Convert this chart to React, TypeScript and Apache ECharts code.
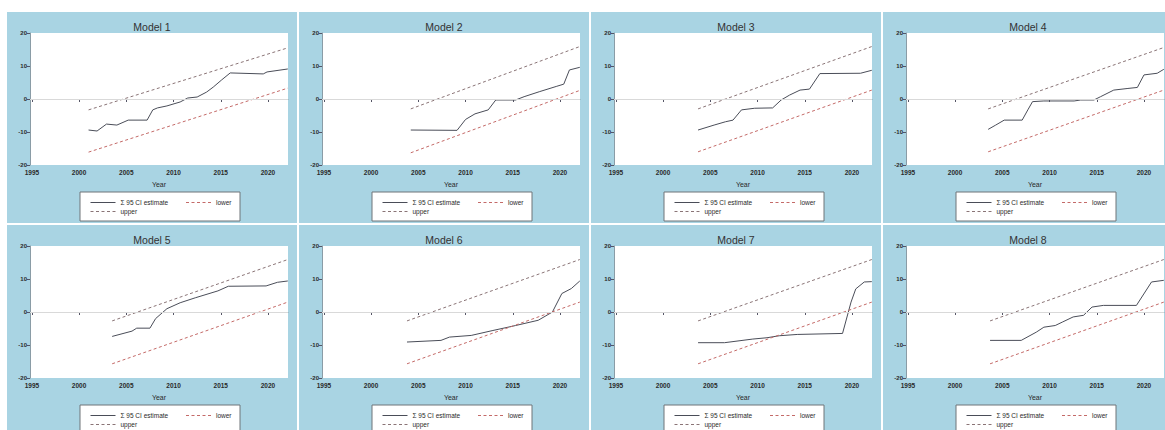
import React, { useEffect, useRef } from "react";
import * as echarts from "echarts";

// ---------- data ----------
const MODEL_TITLES = ["Model 1", "Model 2", "Model 3", "Model 4", "Model 5", "Model 6", "Model 7", "Model 8"];
const X_TICKS = [1995, 2000, 2005, 2010, 2015, 2020];
const Y_TICKS = [-20, -10, 0, 10, 20];
const X_NAME = "Year";
const LEGEND_NAMES = ["Σ 95 CI estimate", "lower", "upper"];

// confidence bounds (straight lines) per model
const BOUND_START_YEAR = [2001.0, 2004.2, 2003.7, 2003.5, 2003.5, 2003.8, 2003.7, 2003.7];
const BOUND_END_YEAR = [2022.1, 2022.1, 2022.1, 2022.1, 2022.1, 2022.1, 2022.1, 2022.1];
const UPPER_START = [-3.3, -3.0, -3.0, -3.0, -2.7, -2.7, -2.7, -2.7];
const UPPER_END = [15.5, 15.9, 15.9, 15.6, 15.9, 15.9, 15.9, 15.9];
const LOWER_START = [-16.1, -16.3, -16.0, -16.0, -15.7, -15.7, -15.7, -15.7];
const LOWER_END = [3.3, 2.6, 2.7, 2.7, 3.0, 3.0, 3.0, 3.0];

// point estimates per model
const M1_YEARS = [2001.0, 2001.9, 2002.9, 2004.0, 2005.2, 2007.2, 2007.8, 2008.3, 2009.3, 2010.7, 2011.5, 2012.5, 2013.5, 2014.2, 2015.1, 2016.0, 2019.5, 2019.9, 2022.1];
const M1_VALUES = [-9.4, -9.7, -7.6, -7.9, -6.4, -6.4, -3.3, -2.7, -2.1, -0.9, 0.3, 0.6, 2.1, 3.6, 5.8, 7.9, 7.6, 8.2, 9.1];
const M2_YEARS = [2004.2, 2009.1, 2010.0, 2011.0, 2012.4, 2013.2, 2015.3, 2016.2, 2017.8, 2019.6, 2020.4, 2021.0, 2022.1];
const M2_VALUES = [-9.4, -9.5, -6.2, -4.5, -3.3, -0.3, -0.3, 0.7, 2.2, 3.8, 4.5, 8.8, 9.6];
const M3_YEARS = [2003.7, 2005.4, 2006.6, 2007.4, 2008.3, 2009.7, 2011.6, 2012.5, 2013.4, 2014.5, 2015.5, 2016.6, 2020.9, 2022.1];
const M3_VALUES = [-9.4, -7.9, -6.9, -6.4, -3.3, -2.8, -2.7, -0.3, 1.2, 2.7, 3.0, 7.7, 7.8, 8.7];
const M4_YEARS = [2003.5, 2004.3, 2005.2, 2007.1, 2007.7, 2008.2, 2009.4, 2012.6, 2013.3, 2014.7, 2015.4, 2016.8, 2018.3, 2019.3, 2020.0, 2021.4, 2022.1];
const M4_VALUES = [-9.2, -7.9, -6.4, -6.4, -3.3, -0.8, -0.6, -0.6, -0.3, -0.3, 0.7, 2.7, 3.2, 3.5, 7.3, 7.8, 9.0];
const M5_YEARS = [2003.5, 2005.6, 2006.1, 2007.5, 2008.1, 2009.3, 2010.7, 2012.3, 2014.7, 2015.8, 2019.8, 2021.0, 2022.1];
const M5_VALUES = [-7.4, -5.8, -4.9, -4.9, -2.0, 1.0, 2.8, 4.3, 6.4, 7.8, 7.9, 9.0, 9.4];
const M6_YEARS = [2003.8, 2007.4, 2008.3, 2010.6, 2012.9, 2015.3, 2017.7, 2019.2, 2020.2, 2021.2, 2022.1];
const M6_VALUES = [-9.1, -8.6, -7.6, -7.1, -5.6, -4.1, -2.5, 0.0, 5.6, 7.1, 9.4];
const M7_YEARS = [2003.7, 2006.5, 2009.5, 2011.0, 2012.3, 2014.2, 2019.0, 2019.9, 2020.4, 2021.3, 2022.1];
const M7_VALUES = [-9.3, -9.3, -8.2, -7.8, -7.2, -6.8, -6.5, 3.0, 7.0, 9.1, 9.2];
const M8_YEARS = [2003.7, 2007.0, 2008.6, 2009.4, 2010.6, 2011.4, 2012.5, 2013.6, 2014.5, 2015.7, 2019.2, 2020.8, 2022.1];
const M8_VALUES = [-8.6, -8.6, -6.1, -4.6, -4.1, -3.0, -1.5, -1.0, 1.5, 2.0, 2.0, 9.1, 9.6];

const EST_YEARS = [M1_YEARS, M2_YEARS, M3_YEARS, M4_YEARS, M5_YEARS, M6_YEARS, M7_YEARS, M8_YEARS];
const EST_VALUES = [M1_VALUES, M2_VALUES, M3_VALUES, M4_VALUES, M5_VALUES, M6_VALUES, M7_VALUES, M8_VALUES];

// ---------- style ----------
const BG = "#a9d4e3";
const EST_COLOR = "#4a4d58";
const LOWER_COLOR = "#c46a68";
const UPPER_COLOR = "#8a7476";
const SERIES_COLORS = [EST_COLOR, LOWER_COLOR, UPPER_COLOR];
const SERIES_DASH: any[] = ["solid", [3, 2.5], [3, 2.5]];
const AXIS_COLOR = "#8a9ca6";
const TEXT_COLOR = "#2a2a2a";
const FONT = "'Liberation Sans', Arial, sans-serif";
const PANEL_W = 290;
const PANEL_H = 211;
const X_MIN = 1994.8;
const X_MAX = 2022.12;

function buildOption(i: number) {
  const estData = EST_YEARS[i].map((y, k) => [y, EST_VALUES[i][k]]);
  const lowerData = [
    [BOUND_START_YEAR[i], LOWER_START[i]],
    [BOUND_END_YEAR[i], LOWER_END[i]],
  ];
  const upperData = [
    [BOUND_START_YEAR[i], UPPER_START[i]],
    [BOUND_END_YEAR[i], UPPER_END[i]],
  ];
  return {
    animation: false,
    backgroundColor: BG,
    textStyle: { fontFamily: FONT },
    title: {
      text: MODEL_TITLES[i],
      left: "center",
      top: 9,
      padding: [0, 0, 0, 18],
      textStyle: { fontSize: 10.5, fontWeight: "normal", color: "#333", fontFamily: FONT },
    },
    grid: {
      left: 23,
      top: 21,
      width: 258,
      height: 132,
      show: true,
      backgroundColor: "#ffffff",
      borderWidth: 0,
    },
    xAxis: {
      type: "value",
      min: X_MIN,
      max: X_MAX,
      name: X_NAME,
      nameLocation: "middle",
      nameGap: 13,
      nameTextStyle: { fontSize: 7, color: TEXT_COLOR, fontFamily: FONT },
      axisLine: { show: true, lineStyle: { color: AXIS_COLOR, width: 1 } },
      axisTick: { show: true, length: 3, lineStyle: { color: "#556" }, customValues: X_TICKS },
      axisLabel: {
        fontSize: 6.5,
        color: TEXT_COLOR,
        margin: 4,
        fontWeight: "bold",
        customValues: X_TICKS,
        formatter: (v: number) => String(Math.round(v)),
      },
      splitLine: { show: false },
    },
    yAxis: {
      type: "value",
      min: Y_TICKS[0],
      max: Y_TICKS[Y_TICKS.length - 1],
      interval: 10,
      axisLine: { show: true, lineStyle: { color: AXIS_COLOR, width: 1 } },
      axisTick: { show: true, length: 3, lineStyle: { color: "#556" } },
      axisLabel: { fontSize: 6, color: TEXT_COLOR, margin: 3, fontWeight: "bold" },
      splitLine: { show: false },
    },
    legend: {
      left: 78,
      top: 182,
      width: 190,
      orient: "horizontal",
      itemWidth: 25,
      itemHeight: 6,
      itemGap: 2,
      selectedMode: false,
      data: LEGEND_NAMES.map((name, k) => ({
        name,
        itemStyle: { opacity: 0 },
        lineStyle: { color: SERIES_COLORS[k], width: 1, type: SERIES_DASH[k], opacity: 1 },
      })),
      formatter: "{a|{name}}",
      textStyle: {
        color: TEXT_COLOR,
        fontFamily: FONT,
        rich: { a: { width: 63, fontSize: 6.5, lineHeight: 8, color: TEXT_COLOR, fontFamily: FONT } },
      },
    },
    graphic: [
      {
        type: "rect",
        z: 0,
        shape: { x: 73, y: 180, width: 160, height: 29 },
        style: { fill: "#ffffff", stroke: "#6f7478", lineWidth: 1 },
      },
    ],
    series: [
      {
        name: LEGEND_NAMES[0],
        type: "line",
        data: estData,
        symbol: "none",
        showSymbol: false,
        lineStyle: { color: EST_COLOR, width: 1 },
        itemStyle: { color: EST_COLOR },
        z: 3,
        markLine: {
          silent: true,
          symbol: "none",
          label: { show: false },
          lineStyle: { color: "#d9d9d9", width: 1, type: "solid" },
          data: [{ yAxis: 0 }],
        },
      },
      {
        name: LEGEND_NAMES[1],
        type: "line",
        data: lowerData,
        symbol: "none",
        showSymbol: false,
        lineStyle: { color: LOWER_COLOR, width: 1, type: SERIES_DASH[1] },
        itemStyle: { color: LOWER_COLOR },
      },
      {
        name: LEGEND_NAMES[2],
        type: "line",
        data: upperData,
        symbol: "none",
        showSymbol: false,
        lineStyle: { color: UPPER_COLOR, width: 1, type: SERIES_DASH[2] },
        itemStyle: { color: UPPER_COLOR },
      },
    ],
  };
}

function Panel({ idx }: { idx: number }) {
  const ref = useRef<HTMLDivElement>(null);
  useEffect(() => {
    if (!ref.current) return;
    const chart = echarts.init(ref.current, null, { renderer: "svg" });
    chart.setOption(buildOption(idx) as any);
    return () => chart.dispose();
  }, [idx]);
  const col = idx % 4;
  const row = Math.floor(idx / 4);
  return (
    <div
      ref={ref}
      style={{
        position: "absolute",
        left: 7 + col * 292,
        top: 12 + row * 213,
        width: PANEL_W,
        height: PANEL_H,
      }}
    />
  );
}

export default function App() {
  return (
    <div
      style={{
        position: "fixed",
        left: 0,
        top: 0,
        width: 1165,
        height: 430,
        overflow: "hidden",
        background: "#ffffff",
      }}
    >
      {MODEL_TITLES.map((_, i) => (
        <Panel key={i} idx={i} />
      ))}
    </div>
  );
}
